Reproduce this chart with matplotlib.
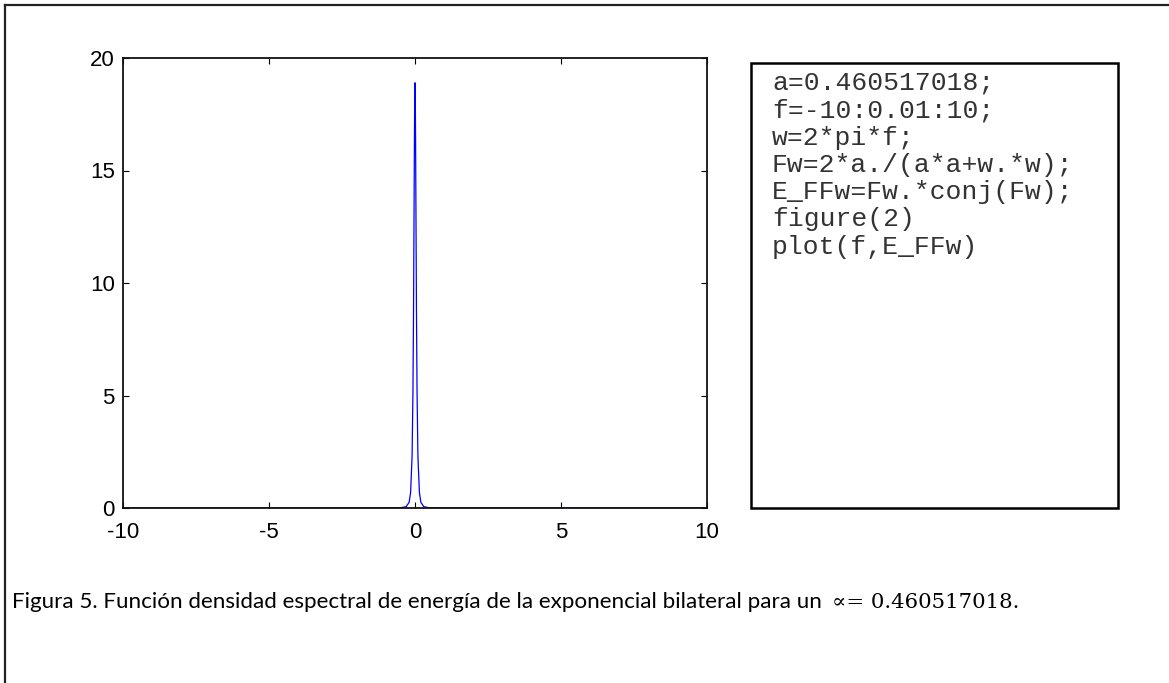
import matplotlib
matplotlib.use("Agg")
import matplotlib.pyplot as plt
from matplotlib.patches import Rectangle
from matplotlib.lines import Line2D

plt.rcParams["axes.unicode_minus"] = False

# values (spike around f = 0)
f = [-10, -1, -0.5, -0.3, -0.2, -0.15, -0.1, -0.07, -0.05, -0.03, -0.02, -0.01, 0,
     0.01, 0.02, 0.03, 0.05, 0.07, 0.1, 0.15, 0.2, 0.3, 0.5, 1, 10]
E_FFw = [0.0, 0.0005, 0.008, 0.06, 0.26, 0.7, 2.3, 5.2, 8.8, 13.8, 16.3, 18.2, 18.9,
         18.2, 16.3, 13.8, 8.8, 5.2, 2.3, 0.7, 0.26, 0.06, 0.008, 0.0005, 0.0]

xticks = [-10, -5, 0, 5, 10]
yticks = [0, 5, 10, 15, 20]

code_lines = [
    "a=0.460517018;",
    "f=-10:0.01:10;",
    "w=2*pi*f;",
    "Fw=2*a./(a*a+w.*w);",
    "E_FFw=Fw.*conj(Fw);",
    "figure(2)",
    "plot(f,E_FFw)",
]
caption = "Figura 5. Función densidad espectral de energía de la exponencial bilateral para un "
caption_math = "\u221d= 0.460517018."

W, H = 1169, 683
fig = plt.figure(figsize=(W / 100, H / 100), dpi=100)

def px(x, y):
    return x / W, 1 - y / H

# page border (only the top and left edges are in the shot)
fig.add_artist(Line2D([5 / W, 5 / W], [0, 1 - 5 / H], transform=fig.transFigure,
                      color="#222222", lw=1.6))
fig.add_artist(Line2D([5 / W, 1], [1 - 5 / H, 1 - 5 / H], transform=fig.transFigure,
                      color="#222222", lw=1.6))

ax_l, ax_r, ax_t, ax_b = 123, 707, 58, 508
ax = fig.add_axes([ax_l / W, 1 - ax_b / H, (ax_r - ax_l) / W, (ax_b - ax_t) / H])
ax.plot(f, E_FFw, color=(0, 0, 1), lw=0.9)
ax.set_xlim(-10, 10)
ax.set_ylim(0, 20)
ax.set_xticks(xticks)
ax.set_yticks(yticks)
ax.tick_params(direction="in", length=4, width=0.8, top=True, right=True, labelsize=16)
ax.tick_params(axis="x", pad=10)
ax.tick_params(axis="y", pad=6)
for lab in ax.get_xticklabels() + ax.get_yticklabels():
    lab.set_family("Liberation Sans")
for s in ax.spines.values():
    s.set_linewidth(1.3)
    s.set_color("#111111")

# code box
bx_l, bx_r, bx_t, bx_b = 751, 1118, 63, 508
fig.add_artist(Rectangle(px(bx_l, bx_b), (bx_r - bx_l) / W, (bx_b - bx_t) / H,
                         transform=fig.transFigure, fill=False, lw=1.8, ec="black"))
for i, line in enumerate(code_lines):
    fig.text(*px(772, 83 + i * 27.3), line, family="Liberation Mono",
             fontsize=19, va="center", ha="left", color="#333333")

# caption, scaled to the width seen in the picture
cap_y = 602
t = fig.text(*px(12, cap_y), caption, family="Lato", fontsize=14, va="center", ha="left")
m = fig.text(*px(832, cap_y), caption_math, family="DejaVu Serif", fontsize=14,
             va="center", ha="left")
fig.canvas.draw()
t.set_fontsize(14 * (828 - 12) / t.get_window_extent().width)
m.set_fontsize(14 * (1020 - 832) / m.get_window_extent().width)

fig.savefig("out.png", dpi=100)
